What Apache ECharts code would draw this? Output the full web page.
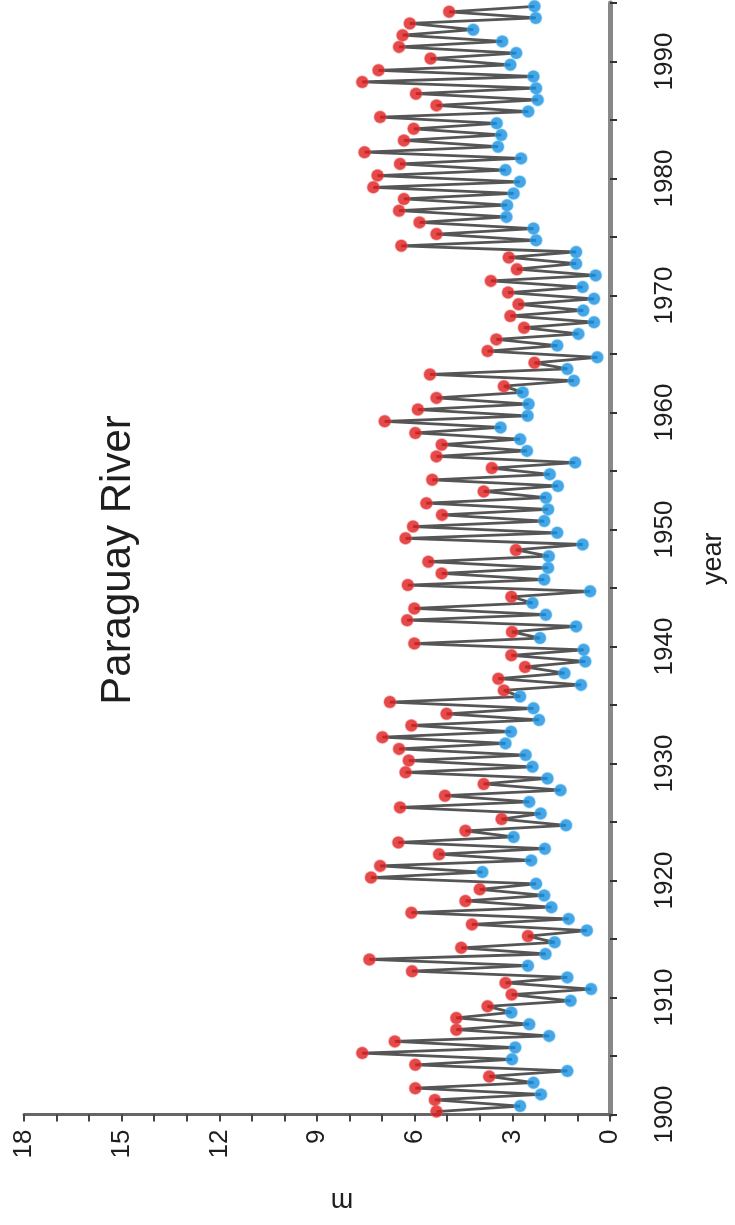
<!DOCTYPE html>
<html>
<head>
<meta charset="utf-8">
<script src="https://cdn.jsdelivr.net/npm/echarts@6/dist/echarts.min.js"></script>
<style>
html,body{margin:0;padding:0;background:#fff;overflow:hidden}
#c{width:735px;height:1225px}
</style>
</head>
<body>
<div id="c"></div>
<script>
// ---- data ----
const years = [1900,1901,1902,1903,1904,1905,1906,1907,1908,1909,
  1910,1911,1912,1913,1914,1915,1916,1917,1918,1919,
  1920,1921,1922,1923,1924,1925,1926,1927,1928,1929,
  1930,1931,1932,1933,1934,1935,1936,1937,1938,1939,
  1940,1941,1942,1943,1944,1945,1946,1947,1948,1949,
  1950,1951,1952,1953,1954,1955,1956,1957,1958,1959,
  1960,1961,1962,1963,1964,1965,1966,1967,1968,1969,
  1970,1971,1972,1973,1974,1975,1976,1977,1978,1979,
  1980,1981,1982,1983,1984,1985,1986,1987,1988,1989,
  1990,1991,1992,1993,1994];
// annual maximum level (m), red
const maxLevel = [5.33,5.38,5.98,3.71,5.98,7.61,6.61,4.72,4.72,3.76,
  3.02,3.21,6.08,7.39,4.57,2.52,4.24,6.10,4.44,4.00,
  7.34,7.06,5.25,6.50,4.44,3.33,6.45,5.07,3.88,6.28,
  6.18,6.48,6.99,6.10,5.02,6.76,3.26,3.43,2.61,3.03,
  6.01,3.01,6.23,6.01,3.03,6.21,5.17,5.58,2.89,6.28,
  6.05,5.16,5.64,3.88,5.46,3.63,5.33,5.17,5.98,6.92,
  5.90,5.33,3.26,5.53,2.32,3.76,3.49,2.64,3.06,2.81,
  3.13,3.66,2.86,3.11,6.41,5.33,5.85,6.48,6.33,7.27,
  7.14,6.45,7.54,6.33,6.03,7.06,5.33,5.96,7.61,7.11,
  5.51,6.48,6.37,6.15,4.94];
// annual minimum level (m), blue
const minLevel = [2.76,2.12,2.35,1.31,3.01,2.91,1.87,2.48,3.03,1.21,
  0.58,1.31,2.52,1.98,1.70,0.71,1.27,1.80,2.02,2.27,
  3.92,2.42,2.00,2.96,1.35,2.13,2.48,1.52,1.92,2.38,
  2.59,3.21,3.04,2.18,2.35,2.76,0.89,1.40,0.76,0.81,
  2.15,1.04,1.97,2.38,0.61,2.02,1.90,1.88,0.84,1.62,
  2.02,1.90,1.97,1.60,1.85,1.07,2.55,2.76,3.36,2.53,
  2.50,2.68,1.11,1.31,0.39,1.62,0.97,0.49,0.82,0.49,
  0.84,0.44,1.04,1.04,2.27,2.35,3.18,3.16,2.96,2.77,
  3.21,2.73,3.44,3.34,3.48,2.51,2.22,2.27,2.35,3.06,
  2.88,3.31,4.20,2.28,2.32];
// time within the year at which the peak / trough occurs (fraction of a year)
const maxTime = 0.25;
const minTime = 0.72;
const levelTicks = [0,3,6,9,12,15,18];
const yearLabels = [1900,1910,1920,1930,1940,1950,1960,1970,1980,1990];
const titleText = 'Paraguay River';

// ---- build ----
const redPts = years.map((y,i)=>[maxLevel[i], y+maxTime]);
const bluePts = years.map((y,i)=>[minLevel[i], y+minTime]);
const linePts = [];
years.forEach((y,i)=>{ linePts.push(redPts[i]); linePts.push(bluePts[i]); });

const FONT = '"Liberation Sans", Arial, sans-serif';
const chart = echarts.init(document.getElementById('c'), null, {renderer:'canvas'});
chart.setOption({
  animation:false,
  backgroundColor:'#ffffff',
  grid:{left:24, right:115.5, top:-1.75, bottom:110.5, containLabel:false},
  xAxis:{
    type:'value', min:levelTicks[0], max:levelTicks[levelTicks.length-1], interval:3,
    inverse:true, position:'bottom',
    axisLine:{show:true, onZero:false, lineStyle:{color:'#666', width:3}},
    axisTick:{show:true, inside:false, length:7, lineStyle:{color:'#444', width:2}},
    minorTick:{show:true, splitNumber:3, length:7, lineStyle:{color:'#444', width:2}},
    splitLine:{show:false},
    axisLabel:{rotate:90, margin:15, fontSize:26, color:'#1e1e1e', fontFamily:FONT,
      formatter:v=>levelTicks.includes(v)?String(v):''},
    name:'m', nameLocation:'middle', nameRotate:180, nameGap:72,
    nameTextStyle:{fontSize:27, color:'#1e1e1e', fontFamily:FONT, padding:[0,50,0,0]}
  },
  yAxis:{
    type:'value', min:1900, max:1995, interval:5, position:'right',
    axisLine:{show:true, onZero:false, lineStyle:{color:'#888', width:5}},
    axisTick:{show:true, inside:false, length:7, lineStyle:{color:'#333', width:2}},
    splitLine:{show:false},
    axisLabel:{rotate:90, margin:42, fontSize:26, color:'#1e1e1e', fontFamily:FONT,
      formatter:v=>yearLabels.includes(v)?String(v):''},
    name:'year', nameLocation:'middle', nameRotate:90, nameGap:90,
    nameTextStyle:{fontSize:27, color:'#1e1e1e', fontFamily:FONT}
  },
  graphic:[{
    type:'text', x:118, y:560, rotation:Math.PI/2,
    style:{text:titleText, fontSize:42, fontFamily:FONT, fill:'#1e1e1e',
      align:'center', verticalAlign:'middle'}
  }],
  series:[
    {type:'line', data:linePts, symbol:'none', lineStyle:{color:'#555', width:2.8}, z:2, clip:true},
    {type:'scatter', data:redPts, symbol:'circle', symbolSize:12,
      itemStyle:{color:'#de1c1c', borderColor:'rgba(238,90,90,0.5)', borderWidth:1.5}, z:3},
    {type:'scatter', data:bluePts, symbol:'circle', symbolSize:12,
      itemStyle:{color:'#1590e0', borderColor:'rgba(90,185,240,0.5)', borderWidth:1.5}, z:3}
  ]
});
</script>
</body>
</html>
